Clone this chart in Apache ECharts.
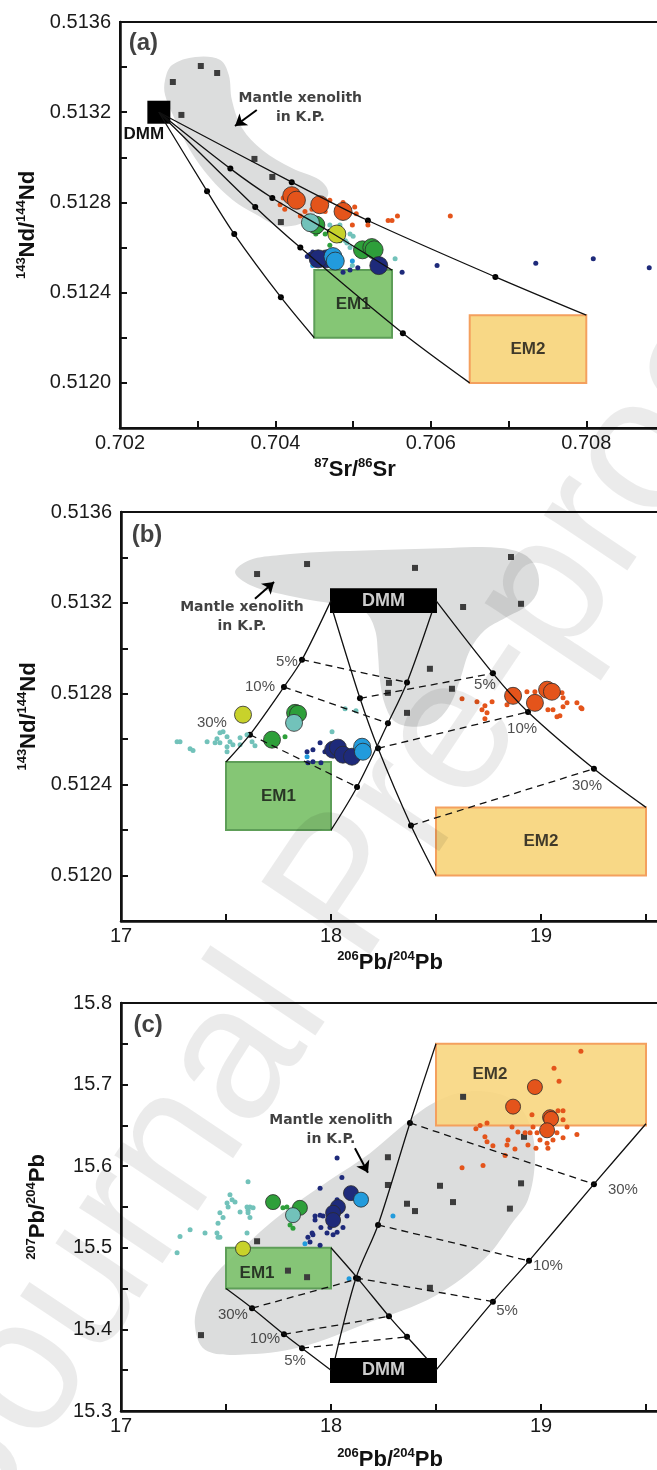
<!DOCTYPE html>
<html>
<head>
<meta charset="utf-8">
<script src="https://cdn.jsdelivr.net/npm/echarts@6/dist/echarts.min.js"></script>
<style>html,body{margin:0;padding:0;background:#fff}#main{width:657px;height:1470px}</style>
</head>
<body>
<div id="main"></div>
<script>
// ---------- panel (a): 143Nd/144Nd vs 87Sr/86Sr ----------
const fieldA = [[0.70258,0.513343],[0.70267,0.513409],[0.70297,0.513445],[0.70329,0.513432],[0.7034,0.513365],[0.70344,0.513254],[0.70357,0.51313],[0.70383,0.513033],[0.70421,0.512953],[0.70457,0.5129],[0.70468,0.512846],[0.7046,0.512789],[0.70438,0.512713],[0.70406,0.512696],[0.70374,0.512749],[0.70345,0.512811],[0.70316,0.512908],[0.7029,0.513033],[0.70271,0.513166],[0.70258,0.513276]];
const xenoA = [[0.70268,0.513334],[0.70304,0.513405],[0.70325,0.513374],[0.70279,0.513188],[0.70373,0.512993],[0.70396,0.512913],[0.70407,0.512713]];
const dmmA = [[0.7025,0.5132]];
const em1A = [0.7045,0.7055,0.5122,0.5125];
const em2A = [0.7065,0.708,0.512,0.5123];
const curveA1 = [[0.7025,0.5132],[0.70421,0.51289],[0.70519,0.51272],[0.70683,0.51247],[0.708,0.5123]];
const curveA2 = [[0.7025,0.5132],[0.70342,0.51295],[0.70396,0.51282],[0.7047,0.51267],[0.7055,0.5125]];
const curveA3 = [[0.7025,0.5132],[0.70374,0.51278],[0.70432,0.5126],[0.70564,0.51222],[0.7065,0.512]];
const curveA4 = [[0.7025,0.5132],[0.70312,0.51285],[0.70347,0.51266],[0.70407,0.51238],[0.7045,0.5122]];
const orangeSmallA = [[0.70406,0.51279],[0.70412,0.51277],[0.70429,0.51278],[0.70438,0.51276],[0.70442,0.51274],[0.70464,0.51276],[0.7047,0.51281],[0.70487,0.5128],[0.70502,0.51278],[0.70504,0.51275],[0.70499,0.5127],[0.70519,0.5127],[0.70545,0.51272],[0.7055,0.51272],[0.70557,0.51274],[0.70625,0.51274],[0.7041,0.51282],[0.70432,0.51274],[0.70447,0.51277]];
const orangeBigA = [[0.70421,0.51283],[0.70427,0.51281],[0.70457,0.51279],[0.70487,0.51276]];
const tealSmallA = [[0.70487,0.51267],[0.70496,0.51266],[0.70492,0.51262],[0.70496,0.5126],[0.70554,0.51255],[0.70499,0.51252],[0.7047,0.5127],[0.70483,0.5127],[0.705,0.51265],[0.7049,0.51263]];
const tealBigA = [[0.70445,0.51271]];
const greenSmallA = [[0.70455,0.51267],[0.70464,0.51266],[0.70452,0.51266],[0.7047,0.51261],[0.70483,0.51263]];
const greenBigA = [[0.70452,0.5127],[0.70512,0.51259],[0.70524,0.5126],[0.70527,0.51259]];
const yellowBigA = [[0.70479,0.51266]];
const navySmallA = [[0.70445,0.51257],[0.70448,0.51258],[0.70441,0.51256],[0.70487,0.51249],[0.70496,0.5125],[0.70506,0.51251],[0.70563,0.51249],[0.70608,0.51252],[0.70735,0.51253],[0.70809,0.51255],[0.70881,0.51251]];
const navyBigA = [[0.70466,0.51255],[0.70455,0.51255],[0.70533,0.51252]];
const blueSmallA = [[0.70448,0.51252],[0.70499,0.51254]];
const blueBigA = [[0.70474,0.51256],[0.70477,0.51254]];
const arrowA = [[0.70376,0.51321],[0.70348,0.513139]];
const notesA = [[0.7023,0.513507,'(a)'],[0.70432,0.513219,'Mantle xenolith\nin K.P.']];
const boxTextA = [[0.705,0.51235,'EM1'],[0.70725,0.51215,'EM2']];

// ---------- panel (b): 143Nd/144Nd vs 206Pb/204Pb ----------
const fieldB = [[17.543,0.513336],[17.614,0.513389],[17.757,0.513411],[17.948,0.513424],[18.233,0.513433],[18.567,0.513442],[18.805,0.513442],[18.924,0.513411],[18.981,0.513345],[18.986,0.513257],[18.938,0.513191],[18.829,0.513134],[18.733,0.513081],[18.662,0.512993],[18.614,0.512861],[18.567,0.512752],[18.495,0.512677],[18.4,0.512655],[18.305,0.512677],[18.257,0.512752],[18.233,0.512861],[18.224,0.512971],[18.21,0.513081],[18.162,0.51316],[18.043,0.513191],[17.9,0.513213],[17.757,0.51324],[17.614,0.513279]];
const xenoB = [[17.648,0.513327],[17.886,0.513371],[18.4,0.513354],[18.857,0.513402],[18.629,0.513182],[18.905,0.513196],[18.471,0.51291],[18.276,0.512848],[18.271,0.512804],[18.576,0.512822],[18.362,0.512716]];
const em1B = [17.5,18,0.5122,0.5125];
const em2B = [18.5,19.5,0.512,0.5123];
const dmmB = [18,18.5,0.51316,0.51326];
const curveB1 = [[18.0,0.51321],[17.862,0.51295],[17.776,0.51283],[17.614,0.51262],[17.5,0.5125]];
const curveB2 = [[18.01,0.51316],[18.138,0.51278],[18.224,0.51256],[18.381,0.51222],[18.5,0.512]];
const curveB3 = [[18.481,0.51316],[18.362,0.51285],[18.271,0.51267],[18.124,0.51239],[18.0,0.5122]];
const curveB4 = [[18.5,0.51321],[18.771,0.51289],[18.938,0.51272],[19.252,0.51247],[19.5,0.5123]];
const orangeSmallB = [[18.624,0.512778],[18.695,0.512765],[18.719,0.51273],[18.733,0.512747],[18.767,0.512765],[18.743,0.512716],[18.733,0.51269],[18.838,0.512752],[18.933,0.512809],[18.971,0.512809],[19.1,0.512804],[19.105,0.512782],[19.124,0.51276],[19.171,0.51276],[19.195,0.512734],[19.057,0.51273],[19.076,0.512699],[19.09,0.512703],[19.033,0.51273],[19.105,0.512743],[19.19,0.512738]];
const orangeBigB = [[18.867,0.512791],[18.971,0.51276],[19.029,0.512818],[19.052,0.512809]];
const tealSmallB = [[17.267,0.512589],[17.281,0.512589],[17.329,0.512558],[17.343,0.51255],[17.41,0.512589],[17.457,0.512602],[17.471,0.512628],[17.486,0.512633],[17.505,0.512611],[17.519,0.512589],[17.505,0.512567],[17.505,0.512545],[17.533,0.512576],[17.567,0.512606],[17.6,0.51262],[17.624,0.512589],[17.638,0.512571],[17.567,0.512576],[17.471,0.512585],[17.448,0.512585],[18.067,0.512734],[18.119,0.512725],[18.005,0.512633]];
const tealBigB = [[17.824,0.512672]];
const greenSmallB = [[17.781,0.512611]];
const greenBigB = [[17.829,0.512716],[17.843,0.512712],[17.719,0.512598]];
const yellowBigB = [[17.581,0.512708]];
const navySmallB = [[17.886,0.512545],[17.914,0.512501],[17.952,0.512497],[17.948,0.512585],[17.914,0.512554],[17.971,0.512545],[17.89,0.512497]];
const navyBigB = [[18.01,0.512554],[18.033,0.512563],[18.057,0.512532],[18.1,0.512523]];
const blueSmallB = [[17.886,0.512523]];
const blueBigB = [[18.148,0.512567],[18.152,0.512545]];
const arrowB = [[17.638,0.513218],[17.729,0.513292]];
const notesB = [[17.124,0.513499,'(b)'],[17.576,0.513138,'Mantle xenolith\nin K.P.']];
const pctB = [[17.79,0.51294,'5%'],[17.662,0.51283,'10%'],[17.433,0.51267,'30%'],[18.733,0.51284,'5%'],[18.91,0.512646,'10%'],[19.219,0.512396,'30%']];
const boxTextB = [[17.75,0.51235,'EM1'],[19.0,0.51215,'EM2']];
const dmmTextB = [[18.25,0.51321,'DMM']];

// ---------- panel (c): 207Pb/204Pb vs 206Pb/204Pb ----------
const fieldC = [[17.352,15.405],[17.376,15.436],[17.448,15.467],[17.567,15.497],[17.757,15.54],[17.995,15.583],[18.186,15.616],[18.329,15.647],[18.471,15.675],[18.614,15.69],[18.757,15.691],[18.876,15.679],[18.948,15.65],[18.971,15.608],[18.938,15.559],[18.867,15.532],[18.733,15.487],[18.495,15.441],[18.186,15.409],[17.852,15.378],[17.567,15.369],[17.4,15.375]];
const xenoC = [[18.629,15.685],[18.271,15.611],[18.519,15.576],[18.905,15.579],[18.271,15.577],[18.362,15.554],[18.4,15.545],[18.581,15.556],[18.852,15.548],[18.919,15.636],[18.471,15.451],[17.648,15.508],[17.795,15.472],[17.886,15.464],[17.381,15.393]];
const em1C = [17.5,18,15.45,15.5];
const em2C = [18.5,19.5,15.65,15.75];
const dmmC = [18,18.5,15.3355,15.3637];
const curveC1 = [[17.5,15.45],[17.624,15.426],[17.776,15.394],[17.862,15.377],[18.0,15.35]];
const curveC2 = [[18.0,15.5],[18.129,15.462],[18.276,15.416],[18.362,15.391],[18.457,15.364]];
const curveC3 = [[18.019,15.364],[18.119,15.463],[18.224,15.528],[18.376,15.653],[18.5,15.75]];
const curveC4 = [[18.5,15.35],[18.771,15.434],[18.943,15.484],[19.252,15.578],[19.5,15.652]];
const orangeSmallC = [[19.19,15.741],[19.062,15.72],[19.086,15.704],[18.957,15.663],[19.081,15.668],[19.105,15.668],[19.105,15.657],[19.124,15.648],[19.105,15.635],[19.171,15.639],[19.076,15.641],[19.057,15.632],[19.033,15.622],[19.029,15.628],[18.995,15.632],[18.981,15.641],[18.962,15.648],[18.948,15.641],[18.924,15.641],[18.89,15.642],[18.862,15.648],[18.743,15.653],[18.71,15.65],[18.69,15.646],[18.733,15.636],[18.743,15.63],[18.771,15.625],[18.843,15.632],[18.838,15.626],[18.876,15.621],[18.829,15.613],[18.938,15.626],[18.976,15.622],[18.724,15.601],[18.624,15.598]];
const orangeBigC = [[18.971,15.697],[18.867,15.673],[19.043,15.66],[19.048,15.658],[19.029,15.644]];
const tealSmallC = [[17.605,15.581],[17.519,15.565],[17.529,15.559],[17.51,15.55],[17.614,15.55],[17.605,15.546],[17.567,15.544],[17.505,15.555],[17.471,15.543],[17.486,15.537],[17.462,15.53],[17.6,15.55],[17.629,15.549],[17.605,15.543],[17.614,15.537],[17.329,15.522],[17.4,15.518],[17.457,15.518],[17.462,15.513],[17.471,15.513],[17.281,15.514],[17.267,15.494],[17.6,15.518],[17.543,15.556]];
const tealBigC = [[17.819,15.54]];
const greenSmallC = [[17.771,15.549],[17.79,15.55],[17.805,15.528],[17.819,15.524]];
const greenBigC = [[17.724,15.556],[17.852,15.549]];
const yellowBigC = [[17.581,15.499]];
const navySmallC = [[18.029,15.61],[18.052,15.586],[17.948,15.573],[18.029,15.559],[18.076,15.539],[17.924,15.539],[17.962,15.539],[17.952,15.525],[17.995,15.525],[18.029,15.519],[18.01,15.516],[17.914,15.516],[17.948,15.503],[17.9,15.507],[18.057,15.525],[17.981,15.518],[17.89,15.513],[17.91,15.518],[17.948,15.54],[17.924,15.534]];
const navyBigC = [[18.095,15.567],[18.033,15.55],[18.01,15.543],[18.01,15.534]];
const blueSmallC = [[17.876,15.505],[18.086,15.462],[18.295,15.539]];
const blueBigC = [[18.143,15.559]];
const arrowC = [[18.114,15.622],[18.176,15.592]];
const notesC = [[17.129,15.773,'(c)'],[18.0,15.644,'Mantle xenolith\nin K.P.']];
const pctC = [[17.533,15.418,'30%'],[17.686,15.388,'10%'],[17.829,15.361,'5%'],[19.033,15.478,'10%'],[18.838,15.423,'5%'],[19.39,15.571,'30%']];
const boxTextC = [[17.648,15.469,'EM1'],[18.757,15.712,'EM2']];
const dmmTextC = [[18.25,15.35,'DMM']];

// ---------- helpers ----------
const FONT = 'Liberation Sans';
const COL = {orange:'#E4541B', teal:'#72C2BA', green:'#2E9F3A', yellow:'#C8D22B', navy:'#1E2A7A', blue:'#229BDC', field:'#DCDDDD', xeno:'#3C3C3C'};

function field(i, pts) {
  return {type:'custom', xAxisIndex:i, yAxisIndex:i, silent:true, data:pts,
    renderItem: (params, api) => {
      if (params.dataIndex !== 0) return null;
      return {type:'polygon', shape:{points: pts.map(p => api.coord(p)), smooth:0.35}, style:{fill:COL.field}};
    }};
}
function box(i, b, fill, stroke) {
  return {type:'custom', xAxisIndex:i, yAxisIndex:i, silent:true, data:[[b[0], b[2], b[1], b[3]]],
    renderItem: (params, api) => {
      const p0 = api.coord([api.value(0), api.value(3)]);
      const p1 = api.coord([api.value(2), api.value(1)]);
      return {type:'rect', shape:{x:p0[0], y:p0[1], width:p1[0]-p0[0], height:p1[1]-p0[1]},
        style:{fill:fill, stroke:stroke, lineWidth:2}};
    }};
}
function pts(i, data, color, size, edge) {
  return {type:'scatter', xAxisIndex:i, yAxisIndex:i, data:data, symbolSize:size, silent:true,
    itemStyle:{color:color, borderColor:'#2b2b2b', borderWidth: edge ? 0.8 : 0, opacity:1}};
}
function squares(i, data) {
  return {type:'scatter', xAxisIndex:i, yAxisIndex:i, data:data, symbol:'rect', symbolSize:6, silent:true, itemStyle:{color:COL.xeno, opacity:1}};
}
function curves(i, list) {
  return list.map(c => ({type:'line', xAxisIndex:i, yAxisIndex:i, data:c, smooth:0.3, symbol:'none', silent:true,
    lineStyle:{color:'#111', width:1.3}}));
}
function ties(i, a, b) {
  return [1,2,3].map(k => ({type:'line', xAxisIndex:i, yAxisIndex:i, data:[a[k], b[k]], symbol:'none', silent:true,
    lineStyle:{color:'#111', width:1.3, type:[7,5]}}));
}
function mixDots(i, list) {
  return {type:'scatter', xAxisIndex:i, yAxisIndex:i, data:list.flatMap(c => c.slice(1, -1)), symbolSize:6, silent:true, itemStyle:{color:'#000', opacity:1}};
}
function texts(i, list, style) {
  return {type:'scatter', xAxisIndex:i, yAxisIndex:i, symbolSize:1, silent:true, itemStyle:{color:'transparent'},
    data:list.map(t => ({name:t[2], value:[t[0], t[1]]})),
    label:Object.assign({show:true, position:'inside', formatter:'{b}', color:'#111', fontFamily:FONT}, style)};
}
function arrow(i, a) {
  return {type:'line', xAxisIndex:i, yAxisIndex:i, data:[], silent:true,
    markLine:{silent:true, symbol:['none','arrow'], symbolSize:11, label:{show:false},
      lineStyle:{color:'#000', width:2, type:'solid'},
      data:[[{coord:a[0], symbol:'none'}, {coord:a[1], symbol:'arrow', symbolSize:11}]]}};
}
function samples(i, s) {
  return [
    pts(i, s.ts, COL.teal, 5, false), pts(i, s.gs, COL.green, 5, false), pts(i, s.ns, COL.navy, 5, false),
    pts(i, s.bs, COL.blue, 5, false), pts(i, s.os, COL.orange, 5, false),
    pts(i, s.gb, COL.green, s.size, true), pts(i, s.tb, COL.teal, s.size, true), pts(i, s.yb, COL.yellow, s.size, true),
    pts(i, s.nb, COL.navy, s.size, true), pts(i, s.bb, COL.blue, s.size, true), pts(i, s.ob, COL.orange, s.size, true)
  ];
}

const RICH = {
  b:{fontFamily:FONT, fontSize:22, fontWeight:'bold', color:'#111', lineHeight:26},
  s:{fontFamily:FONT, fontSize:13, fontWeight:'bold', color:'#111', lineHeight:15, verticalAlign:'top'}
};
const tickFont = {fontFamily:FONT, fontSize:20, color:'#1a1a1a'};
const fmtA = v => Math.round(v * 1000) % 2 === 0 ? v.toFixed(3) : '';
const fmtPbX = v => Math.abs(v - Math.round(v)) < 1e-6 ? String(Math.round(v)) : '';
const fmtNd = v => Math.round(v * 10000) % 4 === 0 ? v.toFixed(4) : '';
const fmtPbY = v => Math.round(v * 100) % 10 === 0 ? v.toFixed(1) : '';

function xAx(i, min, max, step, fmt, name, gap, shift) {
  return {gridIndex:i, type:'value', min:min, max:max, interval:step,
    axisLine:{onZero:false, lineStyle:{color:'#111', width:2.5}},
    axisTick:{inside:true, length:7, lineStyle:{color:'#111', width:2}},
    splitLine:{show:false}, axisLabel:Object.assign({formatter:fmt, margin:5}, tickFont),
    name:name, nameLocation:'middle', nameGap:gap, nameTextStyle:{rich:RICH, padding:[0, shift, 0, 0]}};
}
function yAx(i, min, max, step, fmt, name) {
  return {gridIndex:i, type:'value', min:min, max:max, interval:step,
    axisLine:{onZero:false, lineStyle:{color:'#111', width:2.5}},
    axisTick:{inside:true, length:7, lineStyle:{color:'#111', width:2}},
    splitLine:{show:false}, axisLabel:Object.assign({formatter:fmt, margin:9}, tickFont),
    name:name, nameLocation:'middle', nameGap:70, nameRotate:90, nameTextStyle:{rich:RICH}};
}
const gridStyle = {show:true, borderColor:'#111', borderWidth:2, backgroundColor:'transparent', outerBoundsMode:'none', containLabel:false};

const series = [
  // (a)
  field(0, fieldA), squares(0, xenoA),
  ...curves(0, [curveA1, curveA2, curveA3, curveA4]),
  box(0, em1A, 'rgba(124,194,107,0.93)', '#5E9E58'), box(0, em2A, 'rgba(248,214,127,0.95)', '#F4A05E'),
  mixDots(0, [curveA1, curveA2, curveA3, curveA4]),
  ...samples(0, {size:18, os:orangeSmallA, ob:orangeBigA, ts:tealSmallA, tb:tealBigA, gs:greenSmallA, gb:greenBigA,
    yb:yellowBigA, ns:navySmallA, nb:navyBigA, bs:blueSmallA, bb:blueBigA}),
  {type:'scatter', xAxisIndex:0, yAxisIndex:0, data:dmmA, symbol:'rect', symbolSize:23, silent:true, itemStyle:{color:'#000', opacity:1},
    label:{show:true, position:'bottom', distance:2, offset:[-15, 0], formatter:'DMM', fontFamily:FONT, fontWeight:'bold', fontSize:17, color:'#111'}},
  texts(0, notesA.slice(0, 1), {fontSize:24, fontWeight:'bold'}),
  texts(0, notesA.slice(1), {fontSize:14, fontWeight:'bold', fontFamily:'DejaVu Sans', lineHeight:19}),
  texts(0, boxTextA, {fontSize:17, fontWeight:'bold'}),
  arrow(0, arrowA),
  // (b)
  field(1, fieldB), squares(1, xenoB),
  box(1, em1B, 'rgba(124,194,107,0.93)', '#5E9E58'), box(1, em2B, 'rgba(248,214,127,0.95)', '#F4A05E'),
  ...curves(1, [curveB1, curveB2, curveB3, curveB4]),
  ...ties(1, curveB1, curveB3), ...ties(1, curveB2, curveB4),
  box(1, dmmB, '#000', '#000'),
  mixDots(1, [curveB1, curveB2, curveB3, curveB4]),
  ...samples(1, {size:17, os:orangeSmallB, ob:orangeBigB, ts:tealSmallB, tb:tealBigB, gs:greenSmallB, gb:greenBigB,
    yb:yellowBigB, ns:navySmallB, nb:navyBigB, bs:blueSmallB, bb:blueBigB}),
  texts(1, notesB.slice(0, 1), {fontSize:24, fontWeight:'bold'}),
  texts(1, notesB.slice(1), {fontSize:14, fontWeight:'bold', fontFamily:'DejaVu Sans', lineHeight:19}),
  texts(1, pctB, {fontSize:15, color:'#222'}),
  texts(1, boxTextB, {fontSize:17, fontWeight:'bold'}),
  texts(1, dmmTextB, {fontSize:18, fontWeight:'bold', color:'#fff'}),
  arrow(1, arrowB),
  // (c)
  field(2, fieldC), squares(2, xenoC),
  box(2, em1C, 'rgba(124,194,107,0.9)', '#5E9E58'), box(2, em2C, 'rgba(248,214,127,0.9)', '#F4A05E'),
  ...curves(2, [curveC1, curveC2, curveC3, curveC4]),
  ...ties(2, curveC1, curveC2), ...ties(2, curveC3, curveC4),
  box(2, dmmC, '#000', '#000'),
  mixDots(2, [curveC1, curveC2, curveC3, curveC4]),
  ...samples(2, {size:15, os:orangeSmallC, ob:orangeBigC, ts:tealSmallC, tb:tealBigC, gs:greenSmallC, gb:greenBigC,
    yb:yellowBigC, ns:navySmallC, nb:navyBigC, bs:blueSmallC, bb:blueBigC}),
  texts(2, notesC.slice(0, 1), {fontSize:24, fontWeight:'bold'}),
  texts(2, notesC.slice(1), {fontSize:14, fontWeight:'bold', fontFamily:'DejaVu Sans', lineHeight:19}),
  texts(2, pctC, {fontSize:15, color:'#222'}),
  texts(2, boxTextC, {fontSize:17, fontWeight:'bold'}),
  texts(2, dmmTextC, {fontSize:18, fontWeight:'bold', color:'#fff'}),
  arrow(2, arrowC)
];

const chart = echarts.init(document.getElementById('main'), null, {renderer:'canvas'});
chart.setOption({
  animation:false,
  backgroundColor:'#fff',
  grid:[
    Object.assign({left:120, top:22, width:544, height:406}, gridStyle),
    Object.assign({left:121, top:512, width:630, height:409}, gridStyle),
    Object.assign({left:121, top:1003, width:630, height:408}, gridStyle)
  ],
  xAxis:[
    xAx(0, 0.702, 0.709, 0.001, fmtA, '{s|87}{b|Sr/}{s|86}{b|Sr}', 29, 74),
    xAx(1, 17, 20, 0.5, fmtPbX, '{s|206}{b|Pb/}{s|204}{b|Pb}', 29, 92),
    xAx(2, 17, 20, 0.5, fmtPbX, '{s|206}{b|Pb/}{s|204}{b|Pb}', 36, 92)
  ],
  yAxis:[
    yAx(0, 0.5118, 0.5136, 0.0002, fmtNd, '{s|143}{b|Nd/}{s|144}{b|Nd}'),
    yAx(1, 0.5118, 0.5136, 0.0002, fmtNd, '{s|143}{b|Nd/}{s|144}{b|Nd}'),
    yAx(2, 15.3, 15.8, 0.05, fmtPbY, '{s|207}{b|Pb/}{s|204}{b|Pb}')
  ],
  graphic:[{type:'text', x:350, y:890, rotation:0.98, silent:true, z:100,
    style:{text:'Journal Pre-proof', fontFamily:FONT, fontSize:190, fill:'rgba(0,0,0,0.08)', align:'center', verticalAlign:'middle'}}],
  series:series
});
</script>
</body>
</html>
